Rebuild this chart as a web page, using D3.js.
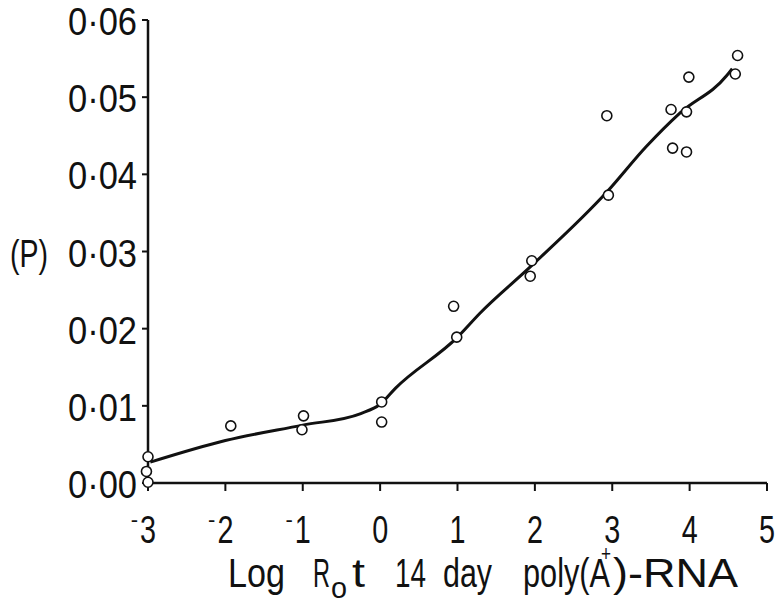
<!DOCTYPE html>
<html><head><meta charset="utf-8">
<script src="https://cdn.jsdelivr.net/npm/d3@7"></script>
<style>
body{margin:0;background:#fff;}
text{font-family:"Liberation Sans",Arial,sans-serif;fill:#111;}
</style></head>
<body><svg id="c" width="779" height="602"></svg>
<script>
// Data
const pointsX = [-3.0,-3.02,-3.0,-1.93,-0.99,-1.01,0.02,0.02,0.95,0.99,1.96,1.94,2.93,2.95,3.76,3.96,3.78,3.96,3.99,4.62,4.59];
const pointsY = [0.0034,0.0015,0.0001,0.0074,0.0087,0.0069,0.0105,0.0079,0.0229,0.0189,0.0288,0.0268,0.0476,0.0373,0.0484,0.0481,0.0434,0.0429,0.0526,0.0554,0.0530];
const curveX = [-2.97,-2.0,-1.0,-0.25,0.0,0.2,1.0,1.29,1.94,2.93,3.44,3.87,4.48,4.55];
const curveY = [0.0027,0.0055,0.0075,0.0090,0.0102,0.0123,0.0189,0.0220,0.0280,0.0377,0.0436,0.0479,0.0528,0.0537];
const xTicks = [-3,-2,-1,0,1,2,3,4,5];
const yTicks = [0,0.01,0.02,0.03,0.04,0.05,0.06];
const yTickLabels = ["0·00","0·01","0·02","0·03","0·04","0·05","0·06"];

const svg = d3.select("#c");
const x = d3.scaleLinear().domain([-3,5]).range([148,767]);
const y = d3.scaleLinear().domain([0,0.06]).range([483,20]);

// axes lines
svg.append("line").attr("x1",x(-3)).attr("x2",x(-3)).attr("y1",y(0.06)).attr("y2",y(0)+2)
  .attr("stroke","#111").attr("stroke-width",2.5);
svg.append("line").attr("x1",x(-3)).attr("x2",x(5)).attr("y1",y(0)).attr("y2",y(0))
  .attr("stroke","#111").attr("stroke-width",2.5);

// y ticks
svg.selectAll(".yt").data(yTicks).enter().append("line")
  .attr("x1",x(-3)-6).attr("x2",x(-3)).attr("y1",d=>y(d)).attr("y2",d=>y(d))
  .attr("stroke","#111").attr("stroke-width",2);
svg.selectAll(".yl").data(yTicks).enter().append("text")
  .attr("x",137).attr("y",d=>y(d)+15).attr("text-anchor","end")
  .attr("font-size",38).attr("textLength",69).attr("lengthAdjust","spacingAndGlyphs")
  .text((d,i)=>yTickLabels[i]);
svg.append("text").attr("x",10).attr("y",y(0.03)+15).attr("font-size",38)
  .attr("textLength",38).attr("lengthAdjust","spacingAndGlyphs").text("(P)");

// x ticks
svg.selectAll(".xt").data(xTicks).enter().append("line")
  .attr("x1",d=>x(d)).attr("x2",d=>x(d)).attr("y1",y(0)).attr("y2",y(0)+8)
  .attr("stroke","#111").attr("stroke-width",2);
svg.selectAll(".xl").data(xTicks).enter().append("text")
  .attr("x",d=>x(d)-8).attr("y",543).attr("font-size",38)
  .attr("textLength",16).attr("lengthAdjust","spacingAndGlyphs")
  .text(d=>Math.abs(d));
svg.selectAll(".xm").data(xTicks.filter(d=>d<0)).enter().append("text")
  .attr("x",d=>x(d)-10).attr("y",527).attr("text-anchor","end").attr("font-size",22)
  .text("-");

// x title
const parts = [
  {s:"Log",x:228,y:587,f:40,w:57},
  {s:"R",x:313,y:587,f:40,w:17},
  {s:"o",x:331,y:598,f:30,w:16},
  {s:"t",x:352,y:587,f:40,w:13},
  {s:"14",x:395,y:587,f:40,w:31},
  {s:"day",x:443,y:587,f:40,w:49},
  {s:"poly(A",x:523,y:587,f:40,w:87},
  {s:"+",x:601,y:561,f:22,w:10},
  {s:")-RNA",x:613,y:587,f:40,w:125}
];
svg.selectAll(".tt").data(parts).enter().append("text")
  .attr("x",d=>d.x).attr("y",d=>d.y).attr("font-size",d=>d.f)
  .attr("textLength",d=>d.w).attr("lengthAdjust","spacingAndGlyphs")
  .text(d=>d.s);

// curve
const line = d3.line().x(d=>x(d[0])).y(d=>y(d[1])).curve(d3.curveMonotoneX);
svg.append("path").datum(curveX.map((v,i)=>[v,curveY[i]])).attr("d",line)
  .attr("fill","none").attr("stroke","#111").attr("stroke-width",3);

// points
svg.selectAll(".pt").data(pointsX.map((v,i)=>[v,pointsY[i]])).enter().append("circle")
  .attr("cx",d=>x(d[0])).attr("cy",d=>y(d[1])).attr("r",5)
  .attr("fill","#fff").attr("stroke","#111").attr("stroke-width",1.6);
</script></body></html>
